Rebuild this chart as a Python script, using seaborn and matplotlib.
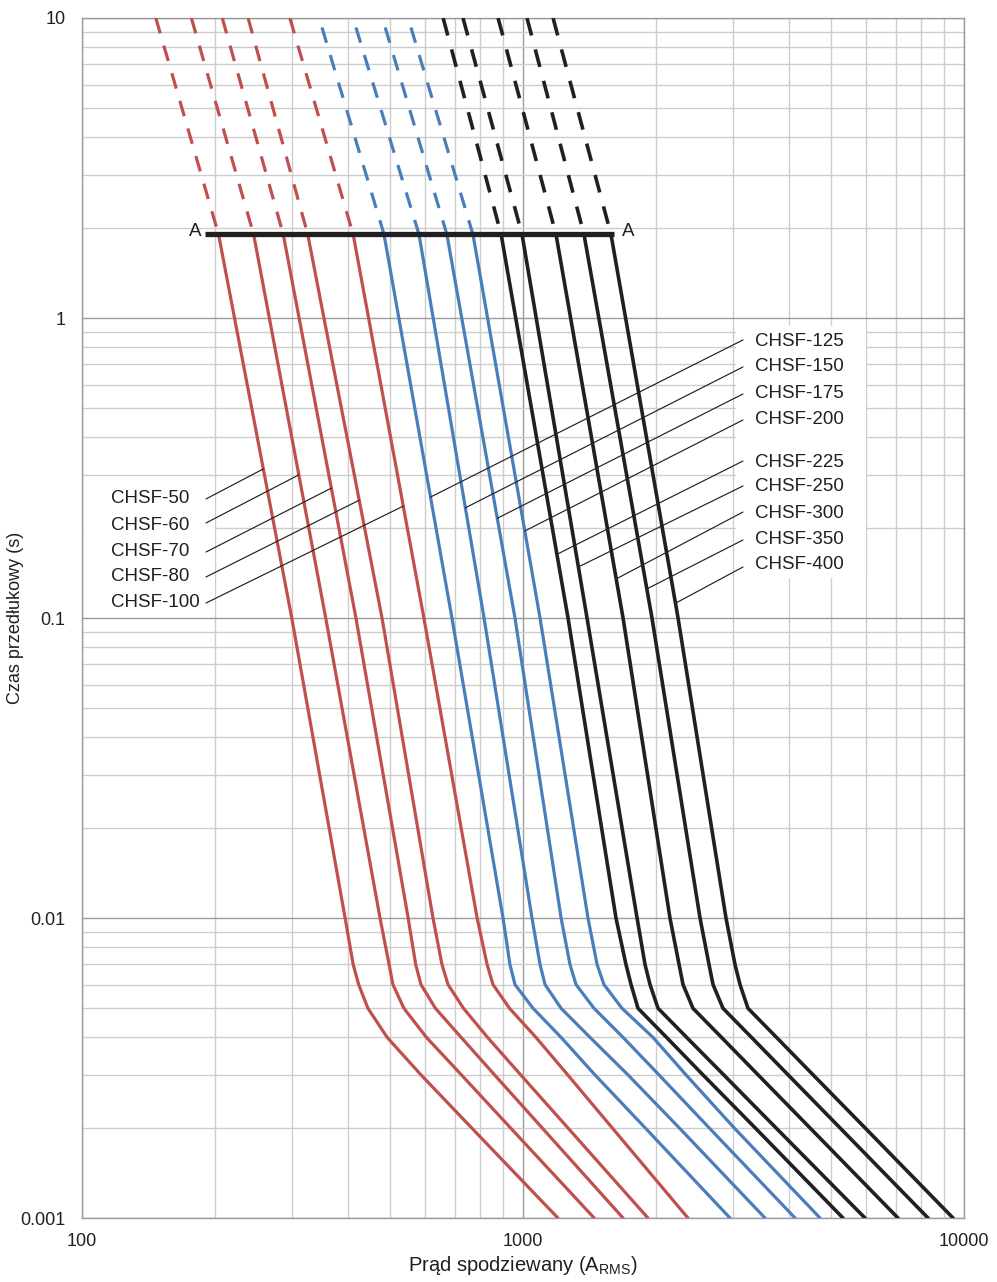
import numpy as np
import pandas as pd
import matplotlib
matplotlib.use("Agg")
import matplotlib.pyplot as plt
import seaborn as sns
from matplotlib.patches import Rectangle
from matplotlib.ticker import FixedLocator, FixedFormatter, NullFormatter, LogLocator

# ---------------- data ----------------
# time levels (s) at which each curve's current (A) was read
times = [10, 1.9, 0.1, 0.01, 0.007, 0.006, 0.005, 0.004, 0.003, 0.002, 0.001]
blue_top_time = 9.3   # blue curves start slightly below 10 s

fuse_names = ["CHSF-50", "CHSF-60", "CHSF-70", "CHSF-80", "CHSF-100",
              "CHSF-125", "CHSF-150", "CHSF-175", "CHSF-200",
              "CHSF-225", "CHSF-250", "CHSF-300", "CHSF-350", "CHSF-400"]
fuse_groups = ["red"] * 5 + ["blue"] * 4 + ["black"] * 5

chsf_50 = [147, 204, 299, 395, 412, 424, 445, 492, 587, 764, 1200]
chsf_60 = [177, 245, 357, 474, 497, 507, 537, 604, 725, 936, 1450]
chsf_70 = [208, 286, 418, 549, 571, 587, 633, 724, 862, 1104, 1686]
chsf_80 = [238, 325, 479, 625, 655, 676, 733, 831, 988, 1263, 1920]
chsf_100 = [296, 412, 596, 787, 829, 855, 932, 1070, 1263, 1592, 2366]
chsf_125 = [350, 484, 690, 901, 934, 959, 1054, 1220, 1456, 1891, 2947]
chsf_150 = [418, 581, 816, 1048, 1093, 1122, 1220, 1419, 1730, 2259, 3538]
chsf_175 = [487, 672, 959, 1220, 1278, 1319, 1449, 1686, 2034, 2641, 4139]
chsf_200 = [557, 770, 1093, 1404, 1472, 1526, 1677, 1971, 2342, 3009, 4716]
chsf_225 = [659, 892, 1265, 1625, 1712, 1758, 1823, 2116, 2559, 3358, 5316]
chsf_250 = [731, 995, 1397, 1814, 1891, 1941, 2024, 2350, 2852, 3743, 5964]
chsf_300 = [878, 1188, 1686, 2154, 2259, 2306, 2429, 2819, 3413, 4470, 7085]
chsf_350 = [1021, 1375, 1961, 2520, 2641, 2697, 2841, 3297, 3992, 5229, 8288]
chsf_400 = [1170, 1583, 2247, 2886, 3025, 3105, 3237, 3757, 4548, 5959, 9443]

fuse_currents = [chsf_50, chsf_60, chsf_70, chsf_80, chsf_100,
                 chsf_125, chsf_150, chsf_175, chsf_200,
                 chsf_225, chsf_250, chsf_300, chsf_350, chsf_400]

# line A
a_line_time = 1.9
a_line_current = [190, 1610]

# time at which each label's leader line touches its curve
left_labels = ["CHSF-50", "CHSF-60", "CHSF-70", "CHSF-80", "CHSF-100"]
left_anchor_t = [0.314, 0.300, 0.271, 0.247, 0.236]
right_labels = ["CHSF-125", "CHSF-150", "CHSF-175", "CHSF-200",
                "CHSF-225", "CHSF-250", "CHSF-300", "CHSF-350", "CHSF-400"]
right_anchor_t = [0.253, 0.233, 0.215, 0.195, 0.163, 0.148, 0.135, 0.125, 0.112]

x_ticks = [100, 1000, 10000]
x_ticklabels = ["100", "1000", "10000"]
y_ticks = [0.001, 0.01, 0.1, 1, 10]
y_ticklabels = ["0.001", "0.01", "0.1", "1", "10"]

# ---------------- styling ----------------
group_colors = {"red": "#C0504D", "blue": "#4A7EBB", "black": "#231F20"}
group_lw = {"red": 2.3, "blue": 2.3, "black": 2.6}

sns.set_style("white")
plt.rcParams["font.family"] = ["Liberation Sans", "DejaVu Sans"]
plt.rcParams["mathtext.fontset"] = "custom"
plt.rcParams["mathtext.rm"] = "Liberation Sans"
plt.rcParams["mathtext.it"] = "Liberation Sans:italic"
plt.rcParams["mathtext.bf"] = "Liberation Sans:bold"

# long table
rows = []
for name, grp, cur in zip(fuse_names, fuse_groups, fuse_currents):
    tt = list(times)
    if grp == "blue":
        tt[0] = blue_top_time
    for c, t in zip(cur, tt):
        if t >= a_line_time:
            rows.append((name, grp, "dashed", c, t))
        if t <= a_line_time:
            rows.append((name, grp, "solid", c, t))
df = pd.DataFrame(rows, columns=["fuse", "group", "part", "current", "time"])
palette = {n: group_colors[g] for n, g in zip(fuse_names, fuse_groups)}

fig = plt.figure(figsize=(9.97, 12.82), dpi=100)
ax = fig.add_axes([0.08225, 0.04992, 0.88465, 0.93604])
ax.set_xscale("log")
ax.set_yscale("log")

for grp in ["red", "blue", "black"]:
    sub = df[df["group"] == grp]
    sns.lineplot(data=sub, x="current", y="time", hue="fuse", style="part",
                 palette={k: v for k, v in palette.items() if k in set(sub["fuse"])},
                 dashes={"solid": "", "dashed": (5, 4)},
                 sort=False, estimator=None, lw=group_lw[grp], legend=False,
                 ax=ax, zorder=3)

# line A
sns.lineplot(x=a_line_current, y=[a_line_time, a_line_time], color="#231F20",
             lw=3.8, ax=ax, zorder=4, solid_capstyle="butt")
ax.text(0.1349, 0.822, "A", transform=ax.transAxes, ha="right", va="center",
        fontsize=13.5, color="#231F20")
ax.text(0.6122, 0.822, "A", transform=ax.transAxes, ha="left", va="center",
        fontsize=13.5, color="#231F20")

ax.set_xlim(100, 10000)
ax.set_ylim(0.001, 10)

# grid
ax.set_axisbelow(True)
ax.xaxis.set_major_locator(FixedLocator(x_ticks))
ax.xaxis.set_major_formatter(FixedFormatter(x_ticklabels))
ax.yaxis.set_major_locator(FixedLocator(y_ticks))
ax.yaxis.set_major_formatter(FixedFormatter(y_ticklabels))
ax.xaxis.set_minor_locator(LogLocator(base=10, subs=np.arange(2, 10)))
ax.yaxis.set_minor_locator(LogLocator(base=10, subs=np.arange(2, 10)))
ax.xaxis.set_minor_formatter(NullFormatter())
ax.yaxis.set_minor_formatter(NullFormatter())
ax.grid(which="major", color="#9c9c9c", lw=1.0)
ax.grid(which="minor", color="#cdcdcd", lw=1.0)
ax.tick_params(which="major", length=5, width=1, color="#9c9c9c",
               labelsize=13, labelcolor="#231F20")
ax.tick_params(axis="y", which="major", pad=7)
ax.tick_params(axis="x", which="major", pad=6)
ax.tick_params(which="minor", length=0)
for s in ax.spines.values():
    s.set_color("#9c9c9c")
    s.set_linewidth(1.0)

# white label boxes that hide the grid
ax.add_patch(Rectangle((0.002, 0.5025), 0.1488, 0.1142, transform=ax.transAxes,
                       facecolor="white", edgecolor="none", zorder=1))
ax.add_patch(Rectangle((0.7415, 0.5333), 0.1474, 0.2100, transform=ax.transAxes,
                       facecolor="white", edgecolor="none", zorder=1))

def anchor_current(name, t_a):
    i = fuse_names.index(name)
    cur = np.log10(fuse_currents[i])[::-1]
    tt = np.log10(times)[::-1]
    return 10 ** np.interp(np.log10(t_a), tt, cur)

left_text_y = [0.5992, 0.5775, 0.5558, 0.5342, 0.5133]
left_line_y = [0.5992, 0.5792, 0.5550, 0.5342, 0.5125]
for lab, ta, ty, ly in zip(left_labels, left_anchor_t, left_text_y, left_line_y):
    ax.text(0.0329, ty, lab, transform=ax.transAxes, ha="left", va="center",
            fontsize=13.5, color="#231F20", zorder=5)
    ax.annotate("", xy=(anchor_current(lab, ta), ta), xycoords="data",
                xytext=(0.1406, ly), textcoords="axes fraction",
                arrowprops=dict(arrowstyle="-", lw=0.85, color="#231F20",
                                shrinkA=0, shrinkB=0), zorder=5)

right_text_y = [0.7308, 0.7092, 0.6875, 0.6658, 0.6300, 0.6092, 0.5875, 0.5658, 0.5450]
right_line_y = [0.7317, 0.7092, 0.6867, 0.6650, 0.6308, 0.6100, 0.5883, 0.5650, 0.5425]
for lab, ta, ty, ly in zip(right_labels, right_anchor_t, right_text_y, right_line_y):
    ax.text(0.7630, ty, lab, transform=ax.transAxes, ha="left", va="center",
            fontsize=13.5, color="#231F20", zorder=5)
    ax.annotate("", xy=(anchor_current(lab, ta), ta), xycoords="data",
                xytext=(0.7494, ly), textcoords="axes fraction",
                arrowprops=dict(arrowstyle="-", lw=0.85, color="#231F20",
                                shrinkA=0, shrinkB=0), zorder=5)

ax.set_xlabel("Prąd spodziewany (A$_{\\mathrm{RMS}}$)", fontsize=14.5, color="#231F20")
ax.set_ylabel("Czas przedłukowy (s)", fontsize=13, color="#231F20")
ax.xaxis.set_label_coords(0.5, -0.030)
ax.yaxis.set_label_coords(-0.0655, 0.5)

fig.savefig("out.png", dpi=100)
